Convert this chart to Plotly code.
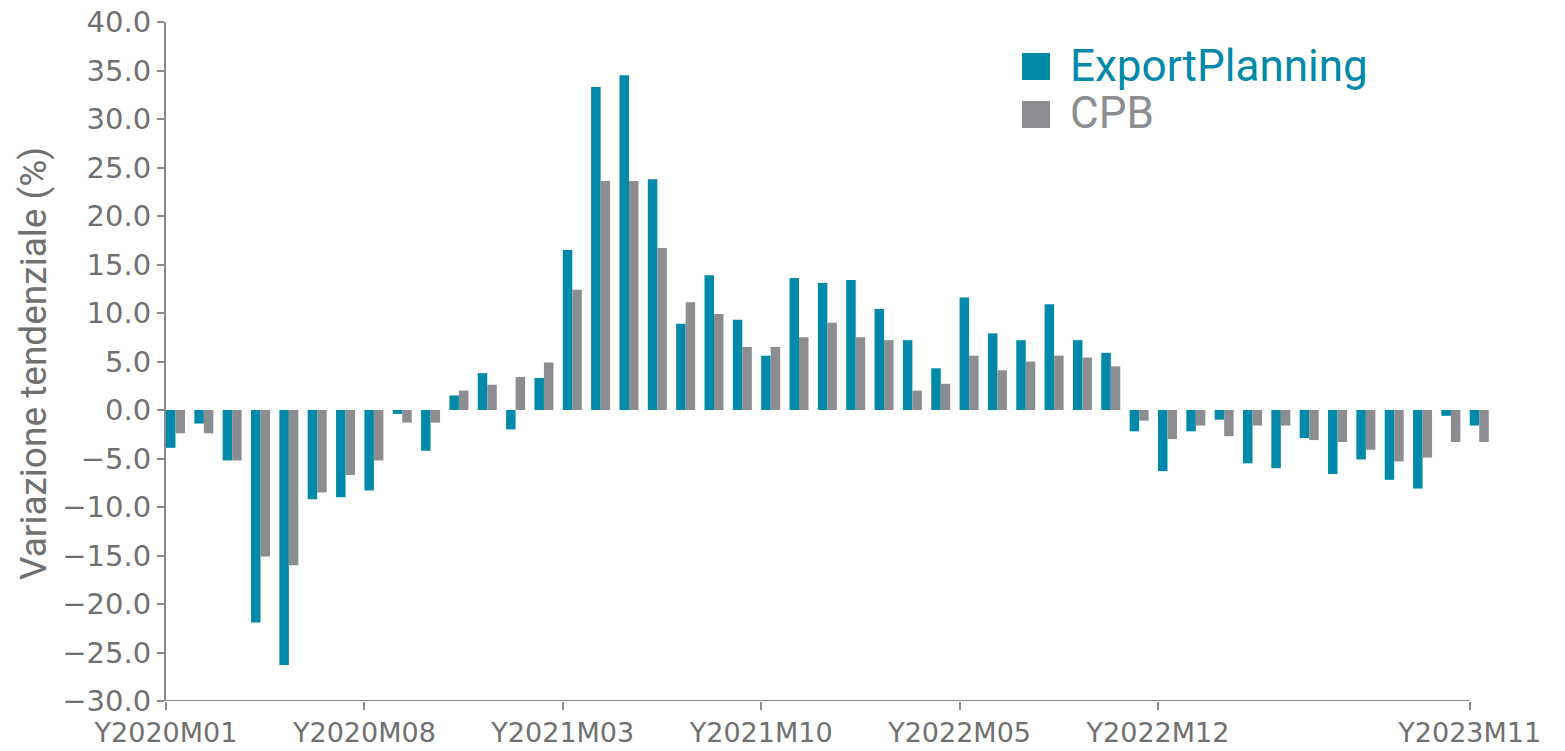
import plotly.graph_objects as go

# ---- data -------------------------------------------------------------
months = []
for yr in (2020, 2021, 2022, 2023):
    for m in range(1, 13):
        if yr == 2023 and m > 11:
            break
        months.append(f"Y{yr}M{m:02d}")

export_planning = [-3.9, -1.4, -5.2, -21.9, -26.3, -9.2, -9.0, -8.3, -0.4, -4.2,
                   1.5, 3.8, -2.0, 3.3, 16.5, 33.3, 34.5, 23.8, 8.9, 13.9,
                   9.3, 5.6, 13.6, 13.1, 13.4, 10.4, 7.2, 4.3, 11.6, 7.9,
                   7.2, 10.9, 7.2, 5.9, -2.2, -6.3, -2.2, -1.0, -5.5, -6.0,
                   -2.9, -6.6, -5.1, -7.2, -8.1, -0.6, -1.6]
cpb = [-2.4, -2.4, -5.2, -15.1, -16.0, -8.5, -6.7, -5.2, -1.3, -1.3,
       2.0, 2.6, 3.4, 4.9, 12.4, 23.6, 23.6, 16.7, 11.1, 9.9,
       6.5, 6.5, 7.5, 9.0, 7.5, 7.2, 2.0, 2.7, 5.6, 4.1,
       5.0, 5.6, 5.4, 4.5, -1.1, -3.0, -1.6, -2.7, -1.6, -1.6,
       -3.1, -3.3, -4.1, -5.3, -4.9, -3.3, -3.3]

tick_labels = ["Y2020M01", "Y2020M08", "Y2021M03", "Y2021M10",
               "Y2022M05", "Y2022M12", "Y2023M11"]

series_names = ["ExportPlanning", "CPB"]
y_title = "Variazione tendenziale (%)"

TEAL = "#0089A8"
GREY = "#8C8D91"
AXIS = "#8a8a8a"
TICKTXT = "#707070"

# ---- figure ----------------------------------------------------------
fig = go.Figure()
fig.add_trace(go.Bar(x=months, y=export_planning, name=series_names[0],
                     marker=dict(color=TEAL, line=dict(width=0)),
                     offset=0.0, width=0.335, showlegend=False))
fig.add_trace(go.Bar(x=months, y=cpb, name=series_names[1],
                     marker=dict(color=GREY, line=dict(width=0)),
                     offset=0.335, width=0.335, showlegend=False))

W, H = 1565, 751
# plot area in page pixels (body margin removed below)
PL, PR, PT, PB = 166, 1491, 22, 701
ML, MT = PL, PT
MR = W - PR
MB = H - PB
pw = PR - PL
ph = PB - PT

def px(x):
    return (x - PL) / pw

def py(y):
    return (PB - y) / ph

fig.update_layout(
    width=W, height=H,
    margin=dict(l=ML, r=MR, t=MT, b=MB, autoexpand=False),
    plot_bgcolor="white", paper_bgcolor="white",
    barmode="overlay",
    font=dict(family="DejaVu Sans", color=TICKTXT),
    xaxis=dict(type="category", range=[0, 46.75], showline=False,
               showgrid=False, zeroline=False, automargin=False,
               ticklabeloverflow="allow",
               tickmode="array", tickvals=tick_labels, ticktext=tick_labels,
               ticks="outside", ticklen=8, tickcolor=AXIS, tickwidth=1.5,
               tickfont=dict(family="DejaVu Sans", size=27, color=TICKTXT)),
    yaxis=dict(range=[-30, 40], dtick=5, tick0=0, tickformat=".1f",
               showline=True, linecolor=AXIS, linewidth=2,
               showgrid=False, zeroline=False, automargin=False,
               ticklabeloverflow="allow",
               ticks="outside", ticklen=7, tickcolor=AXIS, tickwidth=1.5,
               tickfont=dict(family="DejaVu Sans", size=29, color=TICKTXT)),
)

# x axis baseline ending at the last month
fig.add_shape(type="line", xref="x", yref="y",
              x0=0, x1=46, y0=-30, y1=-30,
              line=dict(color=AXIS, width=2))

# y axis title
fig.add_annotation(xref="paper", yref="paper", x=px(33), y=py(364),
                   xanchor="center", yanchor="middle", showarrow=False,
                   textangle=-90, text=y_title,
                   font=dict(family="Roboto", size=37, color=TICKTXT))

# legend drawn as squares and coloured text
for i, (name, col) in enumerate(zip(series_names, [TEAL, GREY])):
    top = 53 + i * 48
    fig.add_shape(type="rect", xref="paper", yref="paper",
                  x0=px(1022), x1=px(1050), y0=py(top + 27), y1=py(top),
                  fillcolor=col, line=dict(width=0))
    fig.add_annotation(xref="paper", yref="paper", x=px(1068), y=py(top + 12),
                       xanchor="left", yanchor="middle", showarrow=False,
                       height=49, valign="middle",
                       text=name, font=dict(family="Roboto", size=44, color=col))

fig.write_html("out.html", config={"displayModeBar": False},
               post_script="document.body.style.margin='0';")
